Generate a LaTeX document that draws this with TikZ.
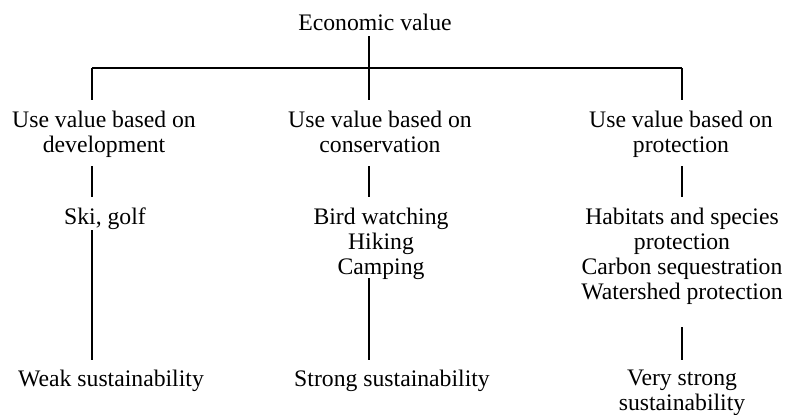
\documentclass[tikz,border=0pt]{standalone}
\usepackage{fontspec}
\setmainfont{Liberation Serif}
\begin{document}
\begin{tikzpicture}[x=0.5pt,y=-0.5pt,
  lbl/.style={inner sep=0pt, align=center, font=\fontsize{11.85}{12.5}\selectfont},
  conn/.style={line width=0.7pt, line cap=butt}]
\useasboundingbox (0,0) rectangle (785,414);
% texts
\node[lbl] (econ) at (375,22) {Economic value};
\node[lbl] (u1) at (104,134) {Use value based on\\development};
\node[lbl] (u2) at (380,131.5) {Use value based on\\conservation};
\node[lbl] (u3) at (681,134) {Use value based on\\protection};
\node[lbl] (s1) at (105,219) {Ski, golf};
\node[lbl] (s2) at (381,244) {Bird watching\\Hiking\\Camping};
\node[lbl] (s3) at (682,256) {Habitats and species\\protection\\Carbon sequestration\\Watershed protection};
\node[lbl] (w1) at (111,381) {Weak sustainability};
\node[lbl] (w2) at (392,381) {Strong sustainability};
\node[lbl] (w3) at (682,393) {Very strong\\sustainability};
% junction points
\coordinate (b1) at (92,68);
\coordinate (b2) at (369,68);
\coordinate (b3) at (682,68);
\coordinate (e0) at (369,36);
\coordinate (t1) at (92,100);
\coordinate (t2) at (369,100);
\coordinate (t3) at (682,100);
\coordinate (m1a) at (92,166);  \coordinate (m1b) at (92,197);
\coordinate (m2a) at (369,166); \coordinate (m2b) at (369,197);
\coordinate (m3a) at (682,166); \coordinate (m3b) at (682,197);
\coordinate (n1a) at (92,230);  \coordinate (n1b) at (92,360);
\coordinate (n2a) at (369,278); \coordinate (n2b) at (369,360);
\coordinate (n3a) at (682,327); \coordinate (n3b) at (682,360);
% connectors
\draw[conn] (e0) -- (b2);
\draw[conn] (b1) -- (b3);
\draw[conn] (b1) -- (t1);
\draw[conn] (b2) -- (t2);
\draw[conn] (b3) -- (t3);
\draw[conn] (m1a) -- (m1b);
\draw[conn] (m2a) -- (m2b);
\draw[conn] (m3a) -- (m3b);
\draw[conn] (n1a) -- (n1b);
\draw[conn] (n2a) -- (n2b);
\draw[conn] (n3a) -- (n3b);
\end{tikzpicture}
\end{document}
